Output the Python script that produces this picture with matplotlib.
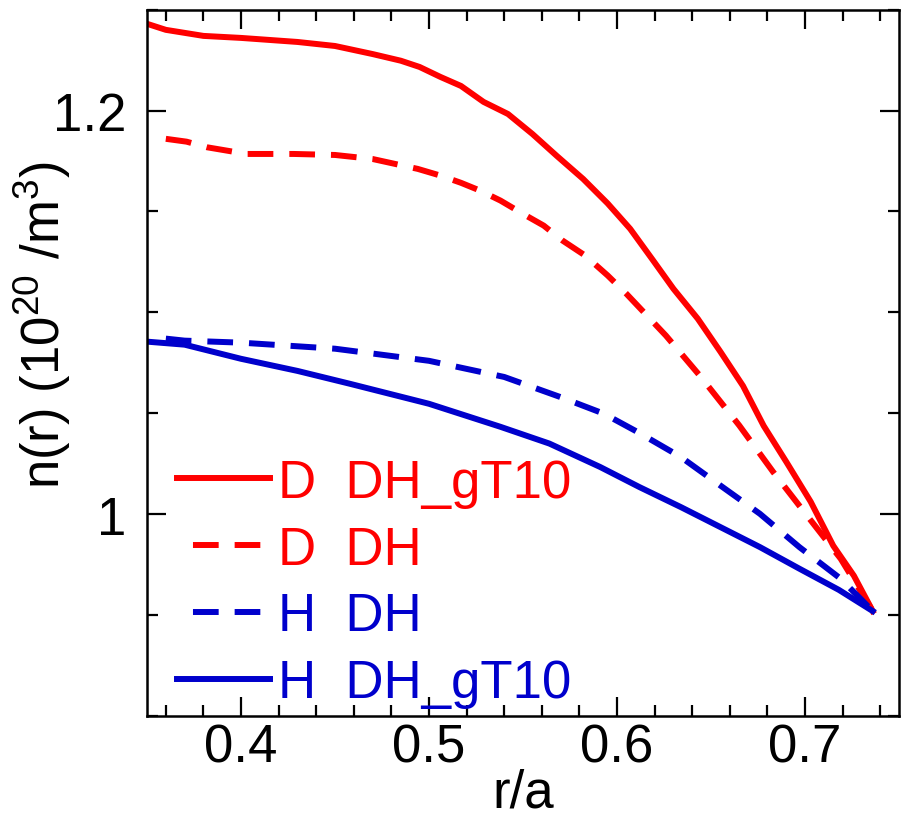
import matplotlib
matplotlib.use("Agg")
import matplotlib.pyplot as plt
from matplotlib import font_manager
from matplotlib.ticker import MultipleLocator, FuncFormatter
from matplotlib.lines import Line2D

# profiles
r_d_gt10 = [0.350, 0.360, 0.380, 0.400, 0.430, 0.450, 0.470, 0.485, 0.495, 0.506,
            0.517, 0.529, 0.542, 0.555, 0.568, 0.582, 0.595, 0.607, 0.619, 0.630,
            0.643, 0.655, 0.667, 0.678, 0.690, 0.703, 0.715, 0.726, 0.736]
n_d_gt10 = [1.243, 1.240, 1.237, 1.236, 1.234, 1.232, 1.228, 1.2247, 1.2216, 1.2167,
            1.2122, 1.2043, 1.1983, 1.1884, 1.1775, 1.1661, 1.1540, 1.1414, 1.1260, 1.1117,
            1.0968, 1.0805, 1.0636, 1.0438, 1.0260, 1.0062, 0.9844, 0.9695, 0.952]

r_d_dh = [0.360, 0.371, 0.382, 0.403, 0.428, 0.450, 0.470, 0.494, 0.506, 0.517,
          0.527, 0.538, 0.550, 0.561, 0.571, 0.583, 0.595, 0.605, 0.626, 0.644,
          0.665, 0.683, 0.701, 0.719, 0.736]
n_d_dh = [1.186, 1.1846, 1.1818, 1.1785, 1.1785, 1.178, 1.176, 1.1711, 1.1678, 1.1642,
          1.1604, 1.1554, 1.1488, 1.1430, 1.1356, 1.1282, 1.1183, 1.1092, 1.0885, 1.0687,
          1.0440, 1.0210, 0.9994, 0.9779, 0.952]

r_h_dh = [0.360, 0.370, 0.400, 0.450, 0.500, 0.540, 0.570, 0.593, 0.611, 0.634,
          0.655, 0.676, 0.697, 0.719, 0.736]
n_h_dh = [1.087, 1.086, 1.085, 1.082, 1.076, 1.068, 1.058, 1.0498, 1.0407, 1.0283,
          1.0142, 1.0002, 0.9837, 0.9680, 0.952]

r_h_gt10 = [0.350, 0.370, 0.400, 0.430, 0.458, 0.500, 0.538, 0.564, 0.591, 0.612,
            0.634, 0.655, 0.676, 0.697, 0.718, 0.736]
n_h_gt10 = [1.0855, 1.084, 1.077, 1.071, 1.0646, 1.0547, 1.0433, 1.035, 1.0234, 1.0134,
            1.0035, 0.9936, 0.9837, 0.9730, 0.9625, 0.952]

labels = ["D  DH_gT10", "D  DH", "H  DH", "H  DH_gT10"]

names = {f.name for f in font_manager.fontManager.ttflist}
fam = "Liberation Sans Narrow" if "Liberation Sans Narrow" in names else "Liberation Sans"
plt.rcParams["font.family"] = [fam, "DejaVu Sans"]
plt.rcParams["mathtext.fontset"] = "custom"
plt.rcParams["mathtext.rm"] = fam
plt.rcParams["lines.scale_dashes"] = False

RED = "#ff0000"
BLUE = "#0000cc"
LW = 4.3
DASH = (18.5, 11.5)
LEG_DASH = (18.5, DASH)  # start legend dashes with a gap, like the original

fig = plt.figure(figsize=(9.07, 8.20), dpi=100)
ax = fig.add_axes([0.1621, 0.1256, 0.8291, 0.8614])

ax.plot(r_d_gt10, n_d_gt10, color=RED, lw=LW)
ax.plot(r_d_dh, n_d_dh, color=RED, lw=LW, dashes=DASH)
ax.plot(r_h_dh, n_h_dh, color=BLUE, lw=LW, dashes=DASH)
ax.plot(r_h_gt10, n_h_gt10, color=BLUE, lw=LW)

ax.set_xlim(0.35, 0.75)
ax.set_ylim(0.90, 1.25)
ax.xaxis.set_major_locator(MultipleLocator(0.1))
ax.xaxis.set_minor_locator(MultipleLocator(0.02))
ax.yaxis.set_major_locator(MultipleLocator(0.2))
ax.yaxis.set_minor_locator(MultipleLocator(0.05))
ax.yaxis.set_major_formatter(FuncFormatter(lambda v, p: "%g" % round(v, 3)))

ax.tick_params(which="both", direction="in", top=True, right=True, width=1.6,
               labelsize=38)
ax.tick_params(which="major", length=13.5)
ax.tick_params(which="minor", length=8)
ax.tick_params(axis="x", pad=5)
ax.tick_params(axis="y", pad=15)
for s in ax.spines.values():
    s.set_linewidth(1.8)

ax.set_xlabel("r/a", fontsize=38, labelpad=-4)
ax.set_ylabel(r"n(r) (10$^{20}$ /m$^{3}$)", fontsize=38)
ax.yaxis.set_label_coords(-0.098, 0.555)

handles = [Line2D([], [], color=RED, lw=LW),
           Line2D([], [], color=RED, lw=LW, linestyle=LEG_DASH),
           Line2D([], [], color=BLUE, lw=LW, linestyle=LEG_DASH),
           Line2D([], [], color=BLUE, lw=LW)]
leg = ax.legend(handles, labels, loc="lower left", bbox_to_anchor=(0.012, -0.019),
                frameon=False, fontsize=38, handlelength=1.76, handletextpad=0.15,
                labelspacing=0.32, borderaxespad=0.0, labelcolor="linecolor")

fig.savefig("out.png", dpi=100)
